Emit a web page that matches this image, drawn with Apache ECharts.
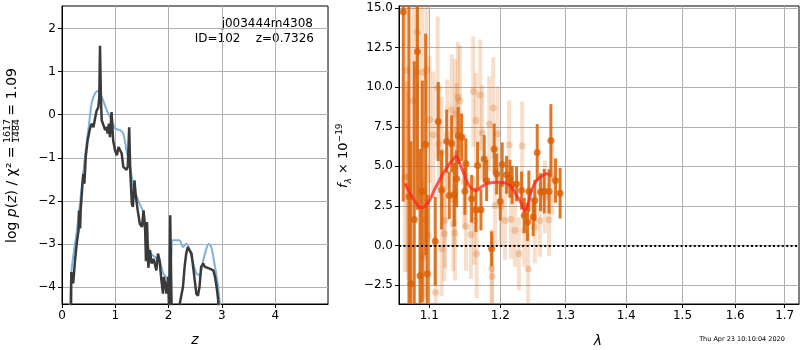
<!DOCTYPE html>
<html>
<head>
<meta charset="utf-8">
<script src="https://cdn.jsdelivr.net/npm/echarts@6/dist/echarts.min.js"></script>
<style>
html, body { margin: 0; padding: 0; background: #fff; }
#chart { width: 800px; height: 350px; }
</style>
</head>
<body>
<div id="chart"></div>
<script>
// left panel: log p(z)
var zBlue = [0.15, 0.18, 0.28, 0.37, 0.43, 0.50, 0.56, 0.62, 0.67, 0.745, 0.84, 0.93, 1.00, 1.09, 1.15, 1.21, 1.28, 1.34, 1.43, 1.53, 1.59, 1.65, 1.74, 1.83, 1.90, 1.99, 2.05, 2.08, 2.20, 2.27, 2.33, 2.43, 2.52, 2.58, 2.65, 2.71, 2.75, 2.80, 2.86, 2.93, 2.98];
var lnpBlue = [-4.7, -3.6, -2.68, -1.68, -0.98, -0.29, 0.29, 0.49, 0.55, 0.41, 0.10, -0.13, -0.32, -0.36, -0.44, -0.83, -1.21, -1.68, -1.99, -2.29, -2.84, -3.18, -3.30, -3.38, -3.68, -3.80, -3.30, -2.91, -2.91, -3.07, -2.99, -3.30, -3.68, -3.72, -3.38, -3.10, -3.00, -3.07, -3.45, -3.99, -4.7];

var zDark = [0.16, 0.17, 0.175, 0.21, 0.245, 0.276, 0.31, 0.32, 0.34, 0.35, 0.38, 0.40, 0.42, 0.445, 0.48, 0.525, 0.557, 0.59, 0.62, 0.65, 0.68, 0.70, 0.713, 0.73, 0.745, 0.77, 0.81, 0.84, 0.855, 0.88, 0.90, 0.93, 0.96, 0.995, 1.03, 1.06, 1.09, 1.12, 1.15, 1.18, 1.21, 1.235, 1.26, 1.28, 1.31, 1.33, 1.36, 1.38, 1.42, 1.46, 1.50, 1.53, 1.56, 1.575, 1.595, 1.62, 1.65, 1.68, 1.70, 1.72, 1.77, 1.80, 1.83, 1.865, 1.895, 1.91, 1.94, 1.96, 1.99, 2.01, 2.03, 2.06, 2.15, 2.21, 2.24, 2.27, 2.30, 2.33, 2.36, 2.39, 2.43, 2.46, 2.49, 2.52, 2.55, 2.58, 2.61, 2.65, 2.68, 2.71, 2.77, 2.84, 2.87, 2.90, 2.93, 2.95];
var lnpDark = [-4.8, -4.4, -3.65, -3.91, -3.37, -2.99, -2.68, -2.22, -2.64, -2.22, -1.68, -1.37, -1.60, -0.98, -0.60, -0.32, -0.21, -0.29, -0.09, 0.10, 0.16, 0.41, 1.60, 0.41, -0.13, -0.11, -0.36, -0.29, -0.44, -0.21, -0.52, 0.06, -0.60, -0.83, -0.94, -0.75, -0.71, -0.90, -1.21, -1.25, -1.28, -1.20, -0.29, -1.28, -2.06, -2.14, -1.52, -1.83, -2.22, -2.53, -2.60, -2.22, -2.68, -3.40, -2.49, -3.55, -3.14, -3.45, -3.45, -3.35, -3.61, -3.22, -3.37, -3.84, -4.15, -3.76, -3.95, -4.15, -3.76, -4.6, -2.33, -4.8, -4.8, -4.38, -4.35, -3.99, -3.53, -3.22, -3.07, -3.04, -3.22, -3.53, -3.84, -4.15, -4.20, -3.99, -3.53, -3.45, -3.53, -3.56, -3.57, -3.61, -3.76, -3.99, -4.30, -4.8];

var zTicks = [0, 1, 2, 3, 4];
var lnpTicks = [-4, -3, -2, -1, 0, 1, 2];

// right panel: spectrum
var lamDark = [1.0656, 1.0730, 1.0756, 1.0800, 1.0842, 1.0876, 1.0906, 1.0952, 1.0973, 1.1081, 1.1122, 1.1168, 1.1237, 1.1273, 1.1306, 1.1342, 1.1375, 1.1398, 1.1445, 1.1491, 1.1505, 1.1586, 1.1647, 1.1671, 1.1719, 1.1766, 1.1801, 1.1873, 1.1911, 1.1946, 1.1999, 1.2028, 1.2093, 1.2142, 1.2176, 1.2242, 1.2317, 1.2357, 1.2407, 1.2427, 1.2493, 1.2518, 1.2555, 1.2607, 1.2663, 1.2738, 1.2767, 1.2840, 1.2912];
var fluxDark = [14.77, 3.09, -2.42, 1.64, 12.25, -1.91, 3.41, 6.38, -1.79, 0.27, 7.83, 3.51, 6.59, 3.16, 6.42, 3.22, 4.21, 6.94, 6.84, 3.43, 5.16, 2.95, 2.25, 5.05, 2.25, 5.47, 4.10, -0.21, 6.10, 4.52, 2.78, 5.11, 4.46, 4.21, 3.83, 3.89, 3.47, 1.89, 1.47, 3.43, 1.79, 2.84, 5.87, 3.37, 3.43, 3.41, 6.63, 4.10, 3.30];
var errDark = [12, 12, 9, 10, 10, 8, 7, 7, 5, 2.8, 2.5, 2.5, 2.0, 1.5, 1.8, 2.0, 1.8, 1.8, 1.5, 1.5, 1.6, 1.5, 1.4, 1.5, 1.3, 1.5, 1.3, 1.1, 1.6, 1.3, 1.2, 1.4, 1.2, 1.2, 1.2, 1.1, 1.2, 1.1, 1.2, 1.3, 1.2, 1.3, 1.8, 1.2, 1.4, 1.4, 2.3, 1.4, 1.6];

var lamFaint = [1.0678, 1.0700, 1.0713, 1.0721, 1.0787, 1.0832, 1.0842, 1.0906, 1.0920, 1.0942, 1.0965, 1.0987, 1.1005, 1.1054, 1.1086, 1.1114, 1.1131, 1.1168, 1.1168, 1.1204, 1.1213, 1.1245, 1.1306, 1.1328, 1.1342, 1.1352, 1.1352, 1.1375, 1.1393, 1.1421, 1.1481, 1.1505, 1.1576, 1.1609, 1.1623, 1.1647, 1.1657, 1.1708, 1.1737, 1.1838, 1.1873, 1.1882, 1.1896, 1.1921, 1.1961, 1.2009, 1.2068, 1.2131, 1.2157, 1.2216, 1.2276, 1.2326, 1.2357, 1.2416, 1.2518, 1.2596, 1.2673, 1.2738, 1.2788];
var fluxFaint = [4.31, 11.05, 4.36, 3.79, 9.15, 10.94, 13.5, 10.94, -0.74, 1.64, 11.09, 0.63, 7.95, 6.99, -2.95, 9.96, 6.42, 5.89, -0.21, 0.74, 1.58, 6.99, 8.57, 1.37, 2.88, 8.27, 0.78, 7.26, 9.36, 9.15, 4.06, 1.20, 0.69, 9.72, 1.58, 7.89, -0.53, 9.51, 7.11, 7.68, -1.47, -1.96, 8.69, 2.52, 7.05, 2.46, 1.58, 6.36, 1.66, 0.95, -0.53, 6.29, 0.95, -1.49, 1.16, 1.58, 3.05, 1.62, 4.21];
var errFaint = [6, 6, 6, 6, 6, 6, 6, 5, 5, 5, 5, 4.5, 4, 4, 3.5, 4.5, 3.5, 3.5, 3, 3, 3, 3.5, 3.5, 3, 3, 3.5, 3, 3, 3.5, 3.5, 3, 2.8, 2.8, 3.5, 2.8, 3, 2.8, 3.5, 3, 3, 2.5, 2.5, 3.2, 2.5, 3, 2.5, 2.5, 2.8, 2.5, 2.3, 2.3, 2.8, 2.3, 2.3, 2.3, 2.3, 2.3, 2.3, 2.3];

var lamModel = [1.0678, 1.0787, 1.0898, 1.0987, 1.1077, 1.1213, 1.1328, 1.1375, 1.1421, 1.1515, 1.1586, 1.1657, 1.1729, 1.1824, 1.1969, 1.2093, 1.2167, 1.2242, 1.2317, 1.2367, 1.2416, 1.2468, 1.2545, 1.2623, 1.2700, 1.2751];
var fluxModel = [3.93, 2.95, 2.38, 2.73, 3.58, 4.73, 5.47, 5.62, 5.16, 4.10, 3.58, 3.47, 3.72, 3.93, 4.00, 3.93, 3.68, 3.16, 2.63, 2.21, 2.63, 3.47, 4.10, 4.36, 4.53, 4.42];

var lamTicks = [1.1, 1.2, 1.3, 1.4, 1.5, 1.6, 1.7];
var fluxTicks = [-2.5, 0, 2.5, 5, 7.5, 10, 12.5, 15];

var FONT = 'DejaVu Sans';
var ORANGE = '#d95f02';

function minus(s) {
  return String(s).replace('-', '\u2212');
}
function pairs(xs, ys, fx) {
  return xs.map(function (x, i) { return [fx ? fx(x) : x, ys[i]]; });
}
function triples(xs, ys, es) {
  return xs.map(function (x, i) { return [Math.log(x), ys[i], es[i]]; });
}
function errBar(color, width) {
  return function (params, api) {
    var x = api.value(0), y = api.value(1), e = api.value(2);
    var a = api.coord([x, y - e]);
    var b = api.coord([x, y + e]);
    return {
      type: 'line',
      shape: { x1: a[0], y1: a[1], x2: b[0], y2: b[1] },
      style: { stroke: color, lineWidth: width }
    };
  };
}

function axis(grid, min, max, ticks, fmt) {
  return {
    type: 'value', gridIndex: grid, min: min, max: max,
    axisLine: { show: true, onZero: false, lineStyle: { color: '#000', width: 1 } },
    axisTick: { show: true, length: 4, customValues: ticks, lineStyle: { color: '#000' } },
    splitLine: { show: true, lineStyle: { color: '#b0b0b0', width: 1 } },
    axisLabel: { customValues: ticks, margin: 6, color: '#000', fontSize: 12, fontFamily: FONT, formatter: fmt }
  };
}

var chart = echarts.init(document.getElementById('chart'), null, { renderer: 'canvas' });

var option = {
  animation: false,
  backgroundColor: '#fff',
  grid: [
    { left: 62, top: 6, width: 266, height: 298, show: true, borderColor: '#000', borderWidth: 1 },
    { left: 399, top: 6, width: 400, height: 298, show: true, borderColor: '#000', borderWidth: 1 }
  ],
  xAxis: [
    axis(0, 0, 4.99, zTicks, function (v) { return String(v); }),
    axis(1, Math.log(1.06), Math.log(1.73), lamTicks.map(Math.log), function (v) { return Math.exp(v).toFixed(1); })
  ],
  yAxis: [
    axis(0, -4.39, 2.52, lnpTicks, function (v) { return minus(v); }),
    axis(1, -3.7, 15.13, fluxTicks, function (v) { return minus(v.toFixed(1)); })
  ],
  series: [
    {
      type: 'line', xAxisIndex: 0, yAxisIndex: 0, data: pairs(zBlue, lnpBlue),
      showSymbol: false, smooth: 0.3, clip: true,
      lineStyle: { color: '#7fb2d8', width: 2 }
    },
    {
      type: 'line', xAxisIndex: 0, yAxisIndex: 0, data: pairs(zDark, lnpDark),
      showSymbol: false, clip: true,
      lineStyle: { color: '#3a3a3a', width: 2.5 }
    },
    {
      type: 'custom', xAxisIndex: 1, yAxisIndex: 1, clip: true,
      data: triples(lamFaint, fluxFaint, errFaint),
      renderItem: errBar('rgba(217,95,2,0.2)', 4)
    },
    {
      type: 'scatter', xAxisIndex: 1, yAxisIndex: 1, clip: true,
      data: pairs(lamFaint, fluxFaint, Math.log),
      symbolSize: 7, itemStyle: { color: 'rgba(217,95,2,0.3)' }
    },
    {
      type: 'custom', xAxisIndex: 1, yAxisIndex: 1, clip: true,
      data: triples(lamDark, fluxDark, errDark),
      renderItem: errBar('rgba(217,95,2,0.85)', 3)
    },
    {
      type: 'scatter', xAxisIndex: 1, yAxisIndex: 1, clip: true,
      data: pairs(lamDark, fluxDark, Math.log),
      symbolSize: 7, itemStyle: { color: ORANGE }
    },
    {
      type: 'line', xAxisIndex: 1, yAxisIndex: 1, clip: true,
      data: pairs(lamModel, fluxModel, Math.log),
      showSymbol: false, smooth: 0.4, z: 5,
      lineStyle: { color: 'rgba(255,35,35,0.75)', width: 3 },
      markLine: {
        silent: true, symbol: ['none', 'none'], label: { show: false },
        lineStyle: { color: '#000', type: [2, 2.4], width: 2 },
        data: [{ yAxis: 0 }]
      }
    }
  ],
  graphic: [
    { type: 'text', x: 313, y: 24, style: { text: 'j003444m4308', align: 'right', verticalAlign: 'middle', font: '12px "DejaVu Sans"', fill: '#000' } },
    { type: 'text', x: 314, y: 39, style: { text: 'ID=102    z=0.7326', align: 'right', verticalAlign: 'middle', font: '12px "DejaVu Sans"', fill: '#000' } },
    { type: 'text', x: 195, y: 340, style: { text: 'z', align: 'center', verticalAlign: 'middle', font: 'italic 14px "DejaVu Sans"', fill: '#000' } },
    { type: 'text', x: 598, y: 341, style: { text: 'λ', align: 'center', verticalAlign: 'middle', font: 'italic 14px "DejaVu Sans"', fill: '#000' } },
    { type: 'text', x: 742, y: 339, style: { text: 'Thu Apr 23 10:10:04 2020', align: 'center', verticalAlign: 'middle', font: '6.5px "DejaVu Sans"', fill: '#000' } },
    {
      // left y label, reads bottom to top
      type: 'group', x: 12, y: 243, rotation: Math.PI / 2,
      children: [
        {
          type: 'text', x: 0, y: 0,
          style: {
            text: '{n|log }{i|p}{n|(}{i|z}{n|) / χ² =}', align: 'left', verticalAlign: 'middle',
            rich: {
              n: { fontSize: 14, fontFamily: FONT, fill: '#000' },
              i: { fontSize: 14, fontFamily: FONT, fontStyle: 'italic', fill: '#000' }
            }
          }
        },
        { type: 'text', x: 112, y: -4.4, style: { text: '1617', align: 'center', verticalAlign: 'middle', font: '9.5px "DejaVu Sans"', fill: '#000' } },
        { type: 'line', shape: { x1: 101, y1: 0.3, x2: 123, y2: 0.3 }, style: { stroke: '#000', lineWidth: 0.8 } },
        { type: 'text', x: 112, y: 4.8, style: { text: '1484', align: 'center', verticalAlign: 'middle', font: '9.5px "DejaVu Sans"', fill: '#000' } },
        { type: 'text', x: 133, y: 0, style: { text: '=', align: 'center', verticalAlign: 'middle', font: '14px "DejaVu Sans"', fill: '#000' } },
        { type: 'text', x: 175, y: 0, style: { text: '1.09', align: 'right', verticalAlign: 'middle', font: '14px "DejaVu Sans"', fill: '#000' } }
      ]
    },
    {
      // right y label
      type: 'text', x: 344, y: 188, rotation: Math.PI / 2,
      style: {
        text: '{i|f}{sub|λ}{n| × 10}{sup|−19}', align: 'left', verticalAlign: 'middle',
        rich: {
          i: { fontSize: 13, fontFamily: FONT, fontStyle: 'italic', lineHeight: 18, fill: '#000' },
          n: { fontSize: 13, fontFamily: FONT, lineHeight: 18, fill: '#000' },
          sub: { fontSize: 9, fontFamily: FONT, fontStyle: 'italic', lineHeight: 10, verticalAlign: 'bottom', fill: '#000' },
          sup: { fontSize: 9, fontFamily: FONT, lineHeight: 10, verticalAlign: 'top', fill: '#000' }
        }
      }
    }
  ]
};

chart.setOption(option);
</script>
</body>
</html>
